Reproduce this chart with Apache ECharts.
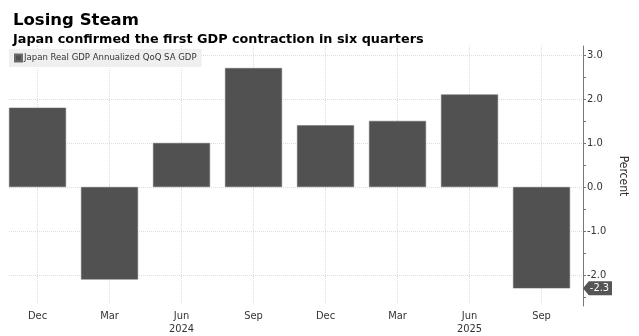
<!DOCTYPE html>
<html>
<head>
<meta charset="utf-8">
<script src="https://cdn.jsdelivr.net/npm/echarts@6/dist/echarts.min.js"></script>
<style>
  html, body { margin: 0; padding: 0; background: #fff; }
  #chart { width: 639px; height: 336px; }
</style>
</head>
<body>
<div id="chart"></div>
<script>
const categories = ['Dec', 'Mar', 'Jun\n2024', 'Sep', 'Dec', 'Mar', 'Jun\n2025', 'Sep'];
const gdpValues = [1.8, -2.1, 1.0, 2.7, 1.4, 1.5, 2.1, -2.3];
const yLabelValues = [-2, -1, 0, 1, 2, 3];
const yTickValues = [-2.5, -2, -1.5, -1, -0.5, 0, 0.5, 1, 1.5, 2, 2.5, 3];

const font = "'DejaVu Sans Condensed', 'Liberation Sans Narrow', 'DejaVu Sans', sans-serif";
const yMin = -2.7, yMax = 3.2;
const xMin = -0.396, xMax = 7.576;
const lastValue = gdpValues[gdpValues.length - 1];

const chart = echarts.init(document.getElementById('chart'));
chart.setOption({
    animation: false,
    title: [
        {
            text: 'Losing Steam',
            left: 8, top: 7,
            textStyle: {fontFamily: 'DejaVu Sans', fontWeight: 'bold', fontSize: 16.5, color: '#000'}
        },
        {
            text: 'Japan confirmed the first GDP contraction in six quarters',
            left: 8, top: 28,
            textStyle: {fontFamily: 'DejaVu Sans', fontWeight: 'bold', fontSize: 12.8, color: '#000'}
        }
    ],
    legend: {
        left: 9, top: 49,
        backgroundColor: '#efefef',
        padding: [4, 5, 4, 5],
        icon: 'rect',
        itemWidth: 7, itemHeight: 7, itemGap: 4,
        textStyle: {fontFamily: font, fontSize: 9.5, color: '#333', padding: [0, 0, 0, -3]},
        data: ['Japan Real GDP Annualized QoQ SA GDP']
    },
    grid: [
        {left: 9, top: 46, width: 574, height: 260},
        {left: 37.5, top: 46, width: 504, height: 260}
    ],
    xAxis: [
        {gridIndex: 0, type: 'value', min: xMin, max: xMax, show: false},
        {
            gridIndex: 1, type: 'category', boundaryGap: false, data: categories,
            axisLine: {show: false},
            axisTick: {show: true, length: 5, lineStyle: {color: '#ddd', type: 'dotted'}},
            axisLabel: {fontFamily: font, fontSize: 11, color: '#333', margin: 7, lineHeight: 13},
            splitLine: {show: true, lineStyle: {color: '#ddd', type: 'dotted'}}
        }
    ],
    yAxis: [
        {
            gridIndex: 0, type: 'value', position: 'right', min: yMin, max: yMax,
            axisLine: {show: true, onZero: false, lineStyle: {color: '#777'}},
            axisTick: {show: true, length: 3, customValues: yTickValues, lineStyle: {color: '#777'}},
            axisLabel: {
                customValues: yLabelValues, fontFamily: font, fontSize: 11, color: '#333', margin: 4,
                formatter: v => v.toFixed(1)
            },
            splitLine: {show: false},
            name: 'Percent', nameLocation: 'middle', nameRotate: -90, nameGap: 24,
            nameTextStyle: {fontFamily: font, fontSize: 12, color: '#333'}
        },
        {
            gridIndex: 1, type: 'value', min: yMin, max: yMax, show: false,
            axisLine: {show: false}, axisTick: {show: false}, axisLabel: {show: false},
            splitLine: {show: false}
        }
    ],
    series: [
        {
            name: 'Japan Real GDP Annualized QoQ SA GDP',
            type: 'bar',
            xAxisIndex: 0, yAxisIndex: 0,
            barWidth: 57,
            z: 3,
            itemStyle: {color: '#515151', borderColor: '#6a6a6a', borderWidth: 0.5},
            data: gdpValues.map((v, i) => [i, v]),
            markLine: {
                silent: true, z: 1,
                symbol: ['none', 'none'],
                label: {show: false},
                lineStyle: {color: '#ddd', type: 'dotted', width: 1},
                data: yLabelValues.map(v => ({yAxis: v}))
            },
            markPoint: {
                silent: true, z: 10,
                symbol: 'path://M0,7 L6,0 L30,0 L30,14 L6,14 Z',
                symbolSize: [29, 14],
                symbolKeepAspect: false,
                symbolOffset: [14.5, 0],
                itemStyle: {color: '#555'},
                label: {
                    show: true, position: 'inside', offset: [2, 0],
                    color: '#fff', fontFamily: font, fontSize: 11,
                    formatter: () => lastValue.toFixed(1)
                },
                data: [{coord: [xMax, lastValue]}]
            }
        }
    ]
});
</script>
</body>
</html>
